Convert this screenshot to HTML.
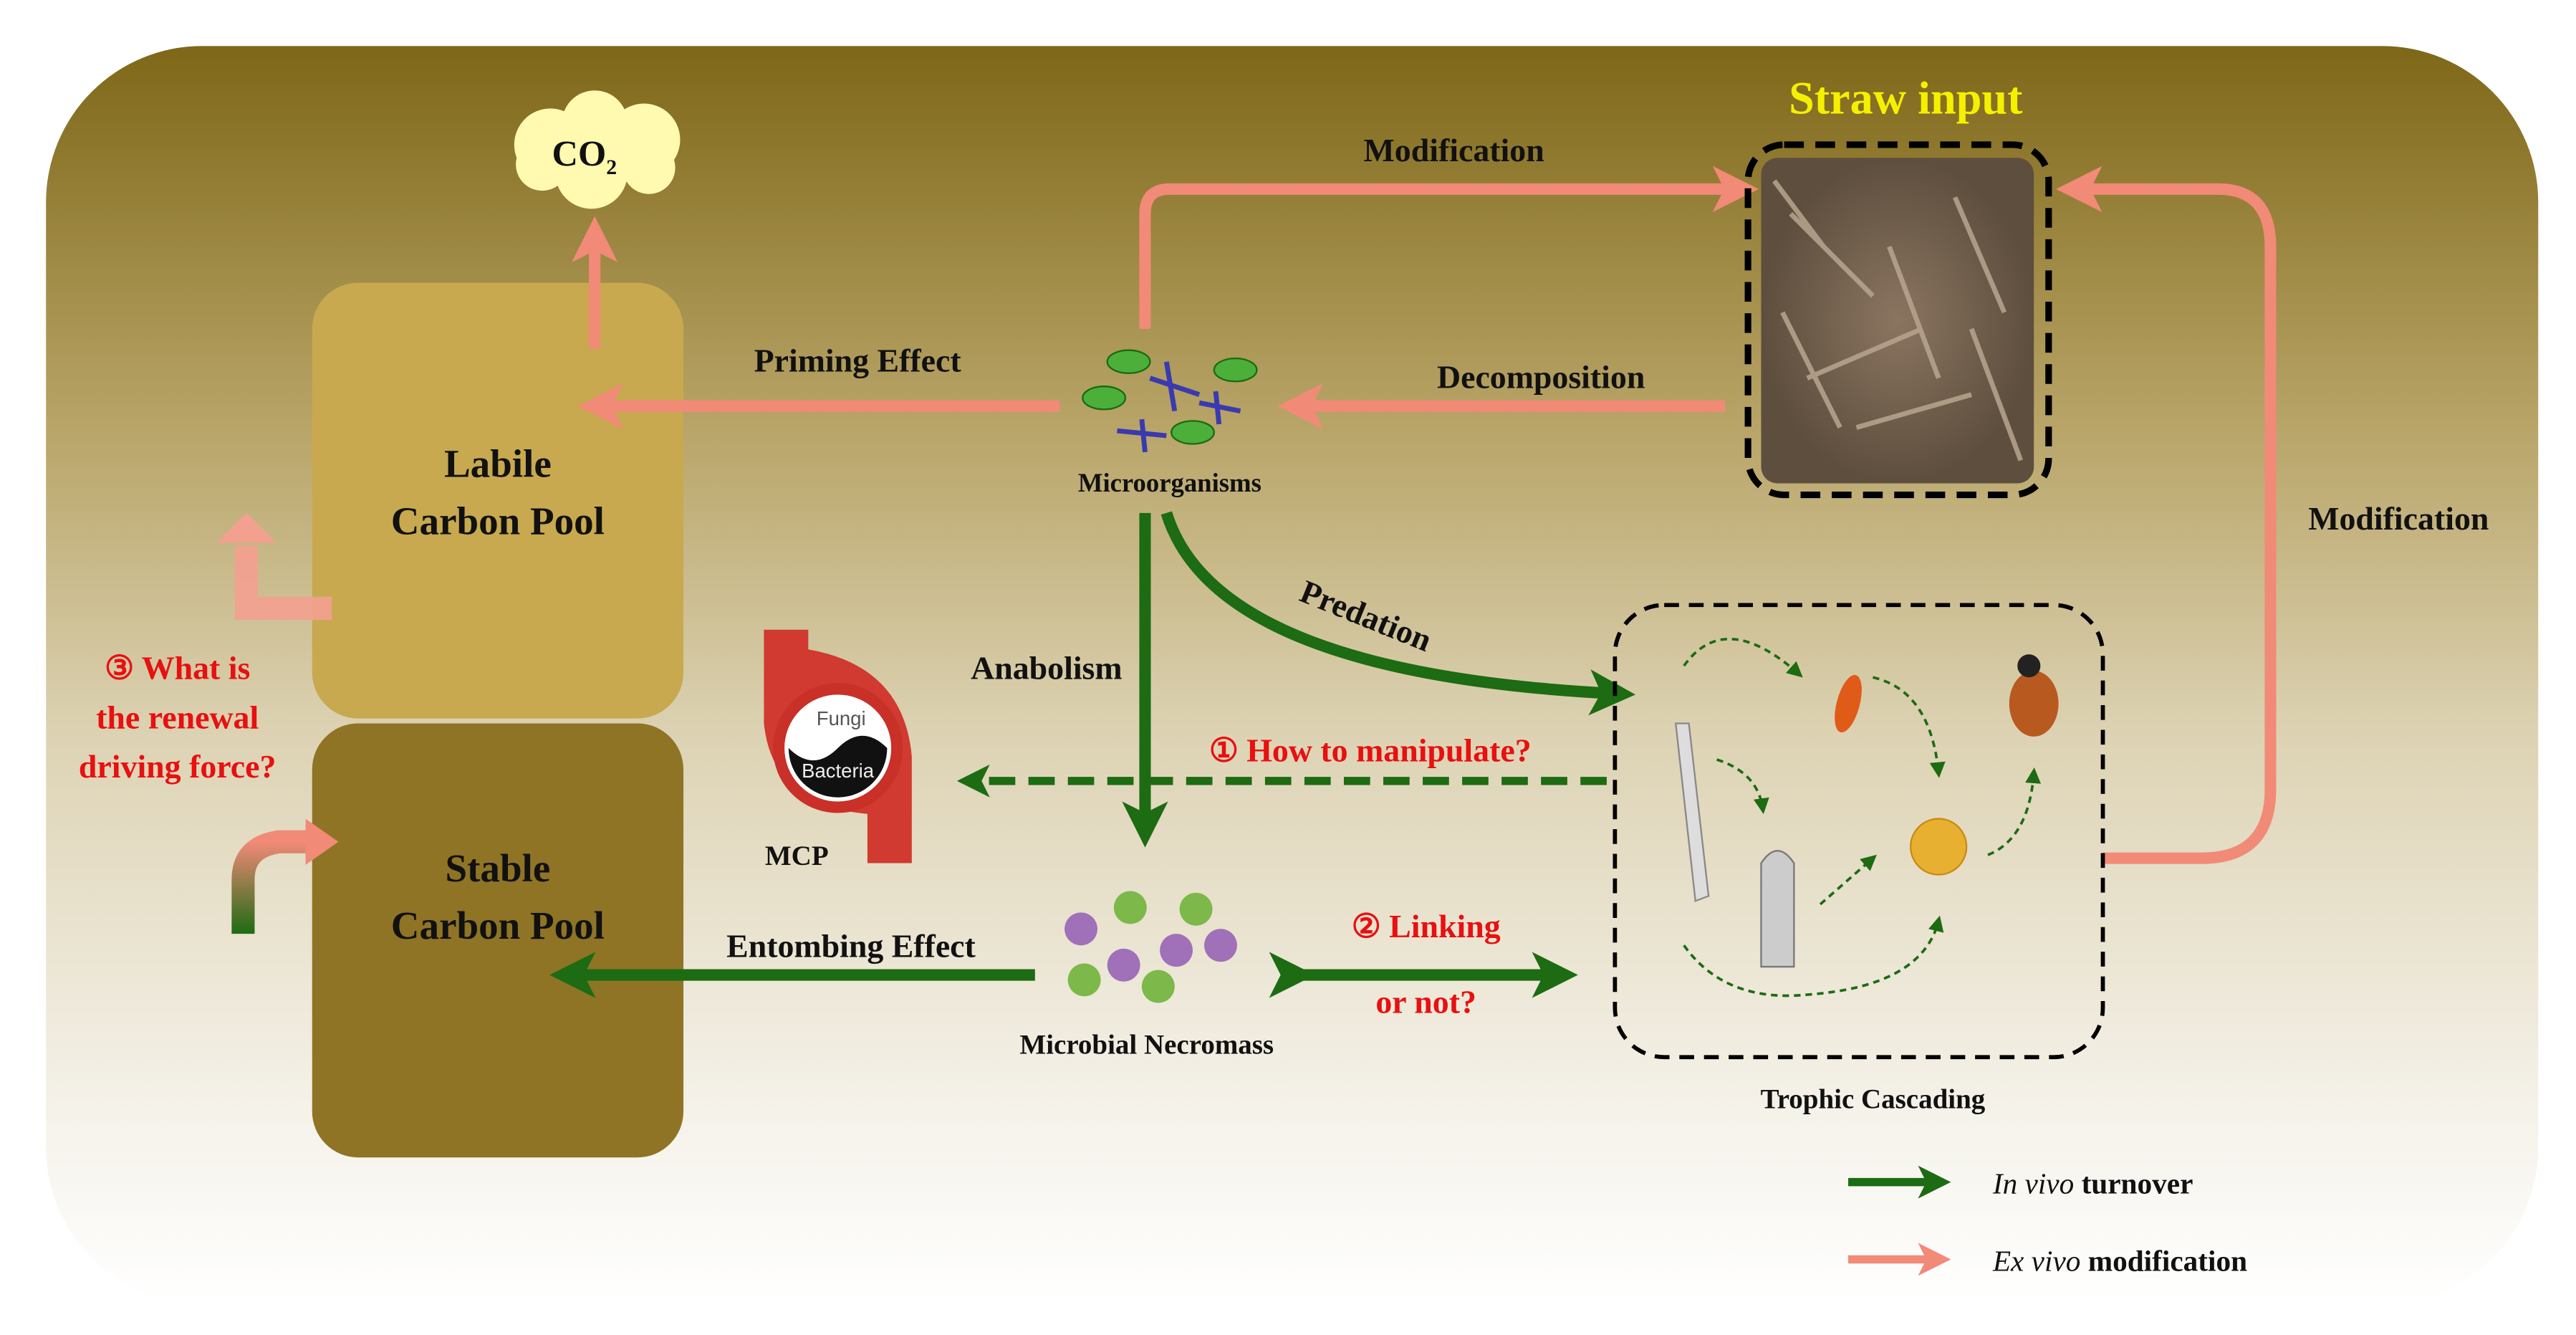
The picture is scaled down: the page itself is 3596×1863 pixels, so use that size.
<!DOCTYPE html>
<html><head><meta charset="utf-8"><style>html,body{margin:0;padding:0;background:#fff}svg{display:block}</style></head>
<body>
<svg width="3596" height="1863" viewBox="0 0 1568 812" preserveAspectRatio="none" xmlns="http://www.w3.org/2000/svg" font-family="Liberation Serif, serif" font-weight="bold">
<defs>
<linearGradient id="bg" x1="0" y1="0" x2="0" y2="1">
<stop offset="0" stop-color="#7e6718"/><stop offset="0.3" stop-color="#b8a467"/><stop offset="0.55" stop-color="#ddd3b4"/><stop offset="0.85" stop-color="#f5f2ea"/><stop offset="1" stop-color="#ffffff"/>
</linearGradient>
<linearGradient id="gr" x1="0" y1="0" x2="0" y2="1"><stop offset="0" stop-color="#f28a78"/><stop offset="1" stop-color="#1d6b12"/></linearGradient>
<radialGradient id="straw"><stop offset="0" stop-color="#8a7560"/><stop offset="1" stop-color="#5e4e3e"/></radialGradient>
<marker id="ag" markerWidth="4" markerHeight="4" refX="2.5" refY="2" orient="auto" markerUnits="strokeWidth"><path d="M0,0 L4,2 L0,4 L1,2z" fill="#1d6b12"/></marker>
<marker id="ap" markerWidth="4" markerHeight="4" refX="2.5" refY="2" orient="auto" markerUnits="strokeWidth"><path d="M0,0 L4,2 L0,4 L1,2z" fill="#f28a78"/></marker>
<marker id="as" markerWidth="6" markerHeight="6" refX="4" refY="3" orient="auto" markerUnits="strokeWidth"><path d="M0,0 L6,3 L0,6z" fill="#1d6b12"/></marker>
</defs>
<rect x="28" y="28" width="1517" height="765" rx="95" fill="url(#bg)"/>
<rect x="190" y="172" width="226" height="265" rx="28" fill="#c8a94f"/>
<rect x="190" y="440" width="226" height="264" rx="28" fill="#8f7426"/>
<text x="303" y="290" font-size="24" text-anchor="middle" fill="#111">Labile</text>
<text x="303" y="325" font-size="24" text-anchor="middle" fill="#111">Carbon  Pool</text>
<text x="303" y="536" font-size="24" text-anchor="middle" fill="#111">Stable</text>
<text x="303" y="571" font-size="24" text-anchor="middle" fill="#111">Carbon  Pool</text>
<g fill="#fffab0"><circle cx="335" cy="88" r="22"/><circle cx="362" cy="75" r="20"/><circle cx="392" cy="85" r="22"/><circle cx="360" cy="105" r="22"/><circle cx="330" cy="100" r="16"/><circle cx="395" cy="102" r="16"/><circle cx="362" cy="92" r="24"/></g>
<text x="336" y="101" font-size="22" fill="#111">CO<tspan font-size="13" dy="5">2</tspan></text>
<g fill="none" stroke="#f28a78" stroke-width="7">
<line x1="362" y1="212" x2="362" y2="142" marker-end="url(#ap)"/>
<line x1="645" y1="247" x2="362" y2="247" marker-end="url(#ap)"/>
<line x1="1050" y1="247" x2="788" y2="247" marker-end="url(#ap)"/>
<path d="M697,200 V130 Q697,115 712,115 H1060" marker-end="url(#ap)"/>
<path d="M1280,522 H1340 Q1382,522 1382,480 V150 Q1382,115 1350,115 H1262" marker-end="url(#ap)"/>
</g>
<path d="M202,370 H150 V332" fill="none" stroke="#f4a090" stroke-width="14" opacity="0.9"/>
<path d="M132,330 L150,312 L168,330z" fill="#f4a090"/>
<path d="M148,568 V535 Q148,515 170,512 H190" fill="none" stroke="url(#gr)" stroke-width="14"/>
<path d="M186,498 L206,512 L186,526z" fill="#f28a78"/>
<text x="885" y="98" font-size="20" text-anchor="middle" fill="#111">Modification</text>
<text x="522" y="226" font-size="20" text-anchor="middle" fill="#111">Priming Effect</text>
<text x="938" y="236" font-size="20" text-anchor="middle" fill="#111">Decomposition</text>
<text x="1460" y="322" font-size="20" text-anchor="middle" fill="#111">Modification</text>
<text x="1160" y="69" font-size="28" text-anchor="middle" fill="#f5f000">Straw input</text>
<rect x="1064" y="88" width="183" height="213" rx="22" fill="none" stroke="#000" stroke-width="4" stroke-dasharray="12 7"/>
<rect x="1072" y="96" width="166" height="198" rx="10" fill="url(#straw)"/>
<g stroke="#b8a690" stroke-width="3" opacity="0.85"><line x1="1090" y1="130" x2="1140" y2="180"/><line x1="1150" y1="150" x2="1180" y2="230"/><line x1="1100" y1="230" x2="1170" y2="200"/><line x1="1190" y1="120" x2="1220" y2="190"/><line x1="1085" y1="190" x2="1120" y2="260"/><line x1="1130" y1="260" x2="1200" y2="240"/><line x1="1200" y1="200" x2="1230" y2="280"/><line x1="1080" y1="110" x2="1110" y2="150"/></g>
<g fill="#4caf3a" stroke="#1a6a10"><ellipse cx="687" cy="220" rx="13" ry="7"/><ellipse cx="752" cy="225" rx="13" ry="7"/><ellipse cx="672" cy="242" rx="13" ry="7"/><ellipse cx="726" cy="263" rx="13" ry="7"/></g>
<g stroke="#3a3ab0" stroke-width="3"><line x1="700" y1="230" x2="730" y2="240"/><line x1="710" y1="220" x2="715" y2="250"/><line x1="730" y1="245" x2="755" y2="250"/><line x1="740" y1="238" x2="742" y2="258"/><line x1="680" y1="262" x2="710" y2="265"/><line x1="695" y1="255" x2="697" y2="275"/></g>
<text x="712" y="299" font-size="16" text-anchor="middle" fill="#111">Microorganisms</text>
<g fill="none" stroke="#1d6b12" stroke-width="7">
<line x1="697" y1="312" x2="697" y2="505" marker-end="url(#ag)"/>
<path d="M710,312 Q740,410 985,422" marker-end="url(#ag)"/>
<line x1="630" y1="593" x2="345" y2="593" marker-end="url(#ag)"/>
<line x1="790" y1="593" x2="950" y2="593" marker-end="url(#ag)" marker-start="url(#ag)"/>
</g>
<line x1="978" y1="475" x2="590" y2="475" stroke="#1d6b12" stroke-width="5" stroke-dasharray="16 8" marker-end="url(#ag)"/>
<text x="637" y="413" font-size="20" text-anchor="middle" fill="#111">Anabolism</text>
<text x="790" y="365" font-size="20" fill="#111" transform="rotate(22 790 365)">Predation</text>
<text x="518" y="582" font-size="20" text-anchor="middle" fill="#111">Entombing Effect</text>
<text x="834" y="463" font-size="20" text-anchor="middle" fill="#e81010">① How to manipulate?</text>
<text x="868" y="570" font-size="20" text-anchor="middle" fill="#e81010">② Linking</text>
<text x="868" y="616" font-size="20" text-anchor="middle" fill="#e81010">or not?</text>
<text x="108" y="413" font-size="20" text-anchor="middle" fill="#e81010">③ What is</text>
<text x="108" y="443" font-size="20" text-anchor="middle" fill="#e81010">the renewal</text>
<text x="108" y="473" font-size="20" text-anchor="middle" fill="#e81010">driving force?</text>
<path d="M465,383 H492 V395 Q550,405 555,460 V525 H528 V495 Q470,490 465,440z" fill="#d03a30"/>
<circle cx="510" cy="455" r="36" fill="#fff" stroke="#c83028" stroke-width="7"/>
<path d="M480,455 A30,30 0 0 0 540,455 Q525,440 510,455 Q495,470 480,455z" fill="#111"/>
<text x="512" y="441" font-size="12" font-weight="normal" font-family="Liberation Sans, sans-serif" text-anchor="middle" fill="#555">Fungi</text>
<text x="510" y="473" font-size="12" font-weight="normal" font-family="Liberation Sans, sans-serif" text-anchor="middle" fill="#eee">Bacteria</text>
<text x="485" y="526" font-size="17" text-anchor="middle" fill="#111">MCP</text>
<g fill="#a070b8"><circle cx="658" cy="565" r="10"/><circle cx="684" cy="587" r="10"/><circle cx="716" cy="578" r="10"/><circle cx="743" cy="575" r="10"/></g>
<g fill="#7cb84a"><circle cx="688" cy="552" r="10"/><circle cx="728" cy="553" r="10"/><circle cx="660" cy="596" r="10"/><circle cx="705" cy="600" r="10"/></g>
<text x="698" y="641" font-size="17" text-anchor="middle" fill="#111">Microbial  Necromass</text>
<rect x="983" y="368" width="297" height="275" rx="30" fill="none" stroke="#000" stroke-width="2.5" stroke-dasharray="9 6"/>
<text x="1140" y="674" font-size="17" text-anchor="middle" fill="#111">Trophic  Cascading</text>
<g fill="none" stroke="#1d6b12" stroke-width="1.6" stroke-dasharray="4 3">
<path d="M1025,405 Q1050,370 1095,410" marker-end="url(#as)"/>
<path d="M1045,462 Q1070,470 1073,492" marker-end="url(#as)"/>
<path d="M1140,412 Q1175,420 1180,470" marker-end="url(#as)"/>
<path d="M1108,550 L1140,522" marker-end="url(#as)"/>
<path d="M1025,575 Q1050,610 1100,605 Q1170,600 1180,560" marker-end="url(#as)"/>
<path d="M1210,520 Q1235,510 1238,470" marker-end="url(#as)"/>
</g>
<path d="M1020,440 L1028,440 L1040,545 L1032,548z" fill="#ddd" stroke="#888"/>
<path d="M1072,525 Q1082,510 1092,525 L1092,588 L1072,588z" fill="#ccc" stroke="#777"/>
<ellipse cx="1125" cy="428" rx="7" ry="18" fill="#e05a18" transform="rotate(15 1125 428)"/>
<ellipse cx="1238" cy="428" rx="15" ry="20" fill="#b85a20"/><circle cx="1235" cy="405" r="7" fill="#222"/>
<circle cx="1180" cy="515" r="17" fill="#e8b030" stroke="#c88a10"/>
<line x1="1125" y1="719" x2="1180" y2="719" stroke="#1d6b12" stroke-width="5" marker-end="url(#ag)"/>
<line x1="1125" y1="766" x2="1180" y2="766" stroke="#f28a78" stroke-width="5" marker-end="url(#ap)"/>
<text x="1213" y="726" font-size="18" fill="#111"><tspan font-style="italic" font-weight="normal">In vivo</tspan> turnover</text>
<text x="1213" y="773" font-size="18" fill="#111"><tspan font-style="italic" font-weight="normal">Ex vivo</tspan> modification</text>
</svg>
</body></html>
